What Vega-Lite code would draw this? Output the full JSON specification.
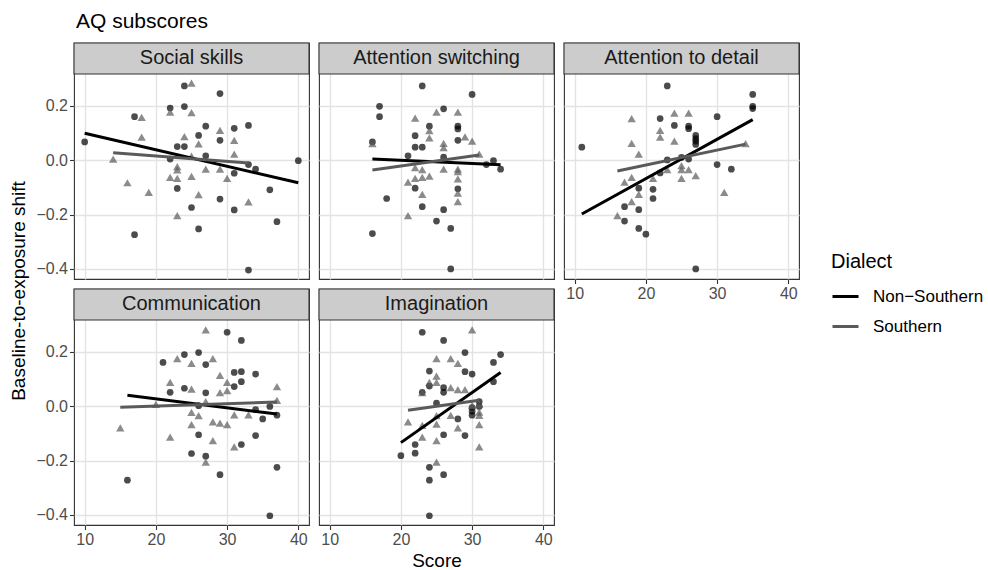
{
  "$schema": "https://vega.github.io/schema/vega-lite/v6.json",
  "padding": {"left": 10, "top": 10, "right": 5, "bottom": 0},
  "title": {"text": "Baseline-to-exposure shift", "orient": "left", "anchor": "middle", "frame": "bounds", "fontSize": 19, "fontWeight": "normal", "color": "#000000", "offset": 6},
  "columns": 3,
  "bounds": "flush",
  "spacing": {"row": 10, "column": 10},
  "datasets": {
    "pts": [
      {"panel":"SS","dialect":"Non−Southern","score":10,"shift":0.067},
      {"panel":"SS","dialect":"Non−Southern","score":17,"shift":0.160},
      {"panel":"SS","dialect":"Non−Southern","score":17,"shift":-0.274},
      {"panel":"SS","dialect":"Non−Southern","score":22,"shift":0.192},
      {"panel":"SS","dialect":"Non−Southern","score":24,"shift":0.273},
      {"panel":"SS","dialect":"Non−Southern","score":24,"shift":0.197},
      {"panel":"SS","dialect":"Non−Southern","score":23,"shift":0.050},
      {"panel":"SS","dialect":"Non−Southern","score":24,"shift":0.050},
      {"panel":"SS","dialect":"Non−Southern","score":22,"shift":0.004},
      {"panel":"SS","dialect":"Non−Southern","score":23,"shift":-0.104},
      {"panel":"SS","dialect":"Non−Southern","score":25,"shift":-0.174},
      {"panel":"SS","dialect":"Non−Southern","score":26,"shift":0.091},
      {"panel":"SS","dialect":"Non−Southern","score":26,"shift":-0.253},
      {"panel":"SS","dialect":"Non−Southern","score":27,"shift":0.125},
      {"panel":"SS","dialect":"Non−Southern","score":27,"shift":0.016},
      {"panel":"SS","dialect":"Non−Southern","score":29,"shift":0.245},
      {"panel":"SS","dialect":"Non−Southern","score":29,"shift":0.073},
      {"panel":"SS","dialect":"Non−Southern","score":29,"shift":-0.143},
      {"panel":"SS","dialect":"Non−Southern","score":31,"shift":0.117},
      {"panel":"SS","dialect":"Non−Southern","score":31,"shift":-0.048},
      {"panel":"SS","dialect":"Non−Southern","score":31,"shift":-0.183},
      {"panel":"SS","dialect":"Non−Southern","score":33,"shift":0.128},
      {"panel":"SS","dialect":"Non−Southern","score":33,"shift":-0.016},
      {"panel":"SS","dialect":"Non−Southern","score":34,"shift":-0.033},
      {"panel":"SS","dialect":"Non−Southern","score":36,"shift":-0.109},
      {"panel":"SS","dialect":"Non−Southern","score":37,"shift":-0.226},
      {"panel":"SS","dialect":"Non−Southern","score":33,"shift":-0.404},
      {"panel":"SS","dialect":"Non−Southern","score":40,"shift":-0.002},
      {"panel":"SS","dialect":"Southern","score":14,"shift":0.004},
      {"panel":"SS","dialect":"Southern","score":16,"shift":-0.083},
      {"panel":"SS","dialect":"Southern","score":18,"shift":0.157},
      {"panel":"SS","dialect":"Southern","score":18,"shift":0.085},
      {"panel":"SS","dialect":"Southern","score":19,"shift":-0.118},
      {"panel":"SS","dialect":"Southern","score":22,"shift":0.177},
      {"panel":"SS","dialect":"Southern","score":22,"shift":-0.063},
      {"panel":"SS","dialect":"Southern","score":23,"shift":-0.024},
      {"panel":"SS","dialect":"Southern","score":23,"shift":-0.036},
      {"panel":"SS","dialect":"Southern","score":23,"shift":-0.067},
      {"panel":"SS","dialect":"Southern","score":23,"shift":-0.204},
      {"panel":"SS","dialect":"Southern","score":24,"shift":0.087},
      {"panel":"SS","dialect":"Southern","score":25,"shift":0.283},
      {"panel":"SS","dialect":"Southern","score":25,"shift":0.175},
      {"panel":"SS","dialect":"Southern","score":25,"shift":0.015},
      {"panel":"SS","dialect":"Southern","score":25,"shift":-0.060},
      {"panel":"SS","dialect":"Southern","score":26,"shift":0.060},
      {"panel":"SS","dialect":"Southern","score":26,"shift":-0.127},
      {"panel":"SS","dialect":"Southern","score":27,"shift":-0.033},
      {"panel":"SS","dialect":"Southern","score":29,"shift":0.110},
      {"panel":"SS","dialect":"Southern","score":29,"shift":-0.033},
      {"panel":"SS","dialect":"Southern","score":30,"shift":-0.067},
      {"panel":"SS","dialect":"Southern","score":31,"shift":0.073},
      {"panel":"SS","dialect":"Southern","score":31,"shift":0.022},
      {"panel":"SS","dialect":"Southern","score":33,"shift":-0.153},

      {"panel":"AS","dialect":"Non−Southern","score":23,"shift":0.273},
      {"panel":"AS","dialect":"Non−Southern","score":30,"shift":0.242},
      {"panel":"AS","dialect":"Non−Southern","score":17,"shift":0.198},
      {"panel":"AS","dialect":"Non−Southern","score":17,"shift":0.160},
      {"panel":"AS","dialect":"Non−Southern","score":26,"shift":0.189},
      {"panel":"AS","dialect":"Non−Southern","score":24,"shift":0.125},
      {"panel":"AS","dialect":"Non−Southern","score":28,"shift":0.125},
      {"panel":"AS","dialect":"Non−Southern","score":28,"shift":0.115},
      {"panel":"AS","dialect":"Non−Southern","score":22,"shift":0.090},
      {"panel":"AS","dialect":"Non−Southern","score":22,"shift":0.048},
      {"panel":"AS","dialect":"Non−Southern","score":23,"shift":0.048},
      {"panel":"AS","dialect":"Non−Southern","score":28,"shift":0.073},
      {"panel":"AS","dialect":"Non−Southern","score":16,"shift":0.067},
      {"panel":"AS","dialect":"Non−Southern","score":21,"shift":0.016},
      {"panel":"AS","dialect":"Non−Southern","score":26,"shift":0.011},
      {"panel":"AS","dialect":"Non−Southern","score":32,"shift":-0.016},
      {"panel":"AS","dialect":"Non−Southern","score":33,"shift":-0.002},
      {"panel":"AS","dialect":"Non−Southern","score":34,"shift":-0.033},
      {"panel":"AS","dialect":"Non−Southern","score":22,"shift":-0.103},
      {"panel":"AS","dialect":"Non−Southern","score":28,"shift":-0.105},
      {"panel":"AS","dialect":"Non−Southern","score":18,"shift":-0.141},
      {"panel":"AS","dialect":"Non−Southern","score":23,"shift":-0.171},
      {"panel":"AS","dialect":"Non−Southern","score":26,"shift":-0.182},
      {"panel":"AS","dialect":"Non−Southern","score":25,"shift":-0.224},
      {"panel":"AS","dialect":"Non−Southern","score":27,"shift":-0.251},
      {"panel":"AS","dialect":"Non−Southern","score":16,"shift":-0.270},
      {"panel":"AS","dialect":"Non−Southern","score":27,"shift":-0.400},
      {"panel":"AS","dialect":"Southern","score":25,"shift":0.177},
      {"panel":"AS","dialect":"Southern","score":28,"shift":0.177},
      {"panel":"AS","dialect":"Southern","score":22,"shift":0.155},
      {"panel":"AS","dialect":"Southern","score":24,"shift":0.109},
      {"panel":"AS","dialect":"Southern","score":24,"shift":0.082},
      {"panel":"AS","dialect":"Southern","score":29,"shift":0.086},
      {"panel":"AS","dialect":"Southern","score":30,"shift":0.070},
      {"panel":"AS","dialect":"Southern","score":26,"shift":0.062},
      {"panel":"AS","dialect":"Southern","score":26,"shift":0.046},
      {"panel":"AS","dialect":"Southern","score":16,"shift":0.061},
      {"panel":"AS","dialect":"Southern","score":31,"shift":0.022},
      {"panel":"AS","dialect":"Southern","score":22,"shift":-0.027},
      {"panel":"AS","dialect":"Southern","score":23,"shift":-0.035},
      {"panel":"AS","dialect":"Southern","score":26,"shift":-0.033},
      {"panel":"AS","dialect":"Southern","score":28,"shift":-0.033},
      {"panel":"AS","dialect":"Southern","score":24,"shift":-0.059},
      {"panel":"AS","dialect":"Southern","score":23,"shift":-0.063},
      {"panel":"AS","dialect":"Southern","score":22,"shift":-0.067},
      {"panel":"AS","dialect":"Southern","score":21,"shift":-0.081},
      {"panel":"AS","dialect":"Southern","score":28,"shift":-0.069},
      {"panel":"AS","dialect":"Southern","score":23,"shift":-0.126},
      {"panel":"AS","dialect":"Southern","score":28,"shift":-0.121},
      {"panel":"AS","dialect":"Southern","score":28,"shift":-0.152},
      {"panel":"AS","dialect":"Southern","score":21,"shift":-0.204},
      {"panel":"AS","dialect":"Southern","score":28,"shift":-0.042},

      {"panel":"AD","dialect":"Non−Southern","score":23,"shift":0.273},
      {"panel":"AD","dialect":"Non−Southern","score":35,"shift":0.242},
      {"panel":"AD","dialect":"Non−Southern","score":35,"shift":0.198},
      {"panel":"AD","dialect":"Non−Southern","score":35,"shift":0.190},
      {"panel":"AD","dialect":"Non−Southern","score":30,"shift":0.160},
      {"panel":"AD","dialect":"Non−Southern","score":22,"shift":0.153},
      {"panel":"AD","dialect":"Non−Southern","score":24,"shift":0.128},
      {"panel":"AD","dialect":"Non−Southern","score":26,"shift":0.125},
      {"panel":"AD","dialect":"Non−Southern","score":26,"shift":0.116},
      {"panel":"AD","dialect":"Non−Southern","score":27,"shift":0.091},
      {"panel":"AD","dialect":"Non−Southern","score":27,"shift":0.079},
      {"panel":"AD","dialect":"Non−Southern","score":27,"shift":0.070},
      {"panel":"AD","dialect":"Non−Southern","score":27,"shift":0.058},
      {"panel":"AD","dialect":"Non−Southern","score":11,"shift":0.048},
      {"panel":"AD","dialect":"Non−Southern","score":23,"shift":0.001},
      {"panel":"AD","dialect":"Non−Southern","score":25,"shift":0.010},
      {"panel":"AD","dialect":"Non−Southern","score":26,"shift":0.004},
      {"panel":"AD","dialect":"Non−Southern","score":30,"shift":-0.016},
      {"panel":"AD","dialect":"Non−Southern","score":32,"shift":-0.033},
      {"panel":"AD","dialect":"Non−Southern","score":22,"shift":-0.047},
      {"panel":"AD","dialect":"Non−Southern","score":19,"shift":-0.103},
      {"panel":"AD","dialect":"Non−Southern","score":21,"shift":-0.107},
      {"panel":"AD","dialect":"Non−Southern","score":21,"shift":-0.141},
      {"panel":"AD","dialect":"Non−Southern","score":17,"shift":-0.171},
      {"panel":"AD","dialect":"Non−Southern","score":19,"shift":-0.182},
      {"panel":"AD","dialect":"Non−Southern","score":17,"shift":-0.224},
      {"panel":"AD","dialect":"Non−Southern","score":19,"shift":-0.251},
      {"panel":"AD","dialect":"Non−Southern","score":20,"shift":-0.272},
      {"panel":"AD","dialect":"Non−Southern","score":27,"shift":-0.400},
      {"panel":"AD","dialect":"Southern","score":18,"shift":0.153},
      {"panel":"AD","dialect":"Southern","score":24,"shift":0.173},
      {"panel":"AD","dialect":"Southern","score":26,"shift":0.173},
      {"panel":"AD","dialect":"Southern","score":22,"shift":0.110},
      {"panel":"AD","dialect":"Southern","score":22,"shift":0.085},
      {"panel":"AD","dialect":"Southern","score":24,"shift":0.070},
      {"panel":"AD","dialect":"Southern","score":18,"shift":0.062},
      {"panel":"AD","dialect":"Southern","score":19,"shift":0.022},
      {"panel":"AD","dialect":"Southern","score":34,"shift":0.061},
      {"panel":"AD","dialect":"Southern","score":23,"shift":-0.035},
      {"panel":"AD","dialect":"Southern","score":25,"shift":-0.020},
      {"panel":"AD","dialect":"Southern","score":25,"shift":-0.035},
      {"panel":"AD","dialect":"Southern","score":26,"shift":-0.035},
      {"panel":"AD","dialect":"Southern","score":25,"shift":-0.067},
      {"panel":"AD","dialect":"Southern","score":27,"shift":-0.057},
      {"panel":"AD","dialect":"Southern","score":21,"shift":-0.067},
      {"panel":"AD","dialect":"Southern","score":18,"shift":-0.063},
      {"panel":"AD","dialect":"Southern","score":17,"shift":-0.081},
      {"panel":"AD","dialect":"Southern","score":19,"shift":-0.126},
      {"panel":"AD","dialect":"Southern","score":18,"shift":-0.152},
      {"panel":"AD","dialect":"Southern","score":31,"shift":-0.118},
      {"panel":"AD","dialect":"Southern","score":16,"shift":-0.204},

      {"panel":"CO","dialect":"Non−Southern","score":30,"shift":0.272},
      {"panel":"CO","dialect":"Non−Southern","score":32,"shift":0.242},
      {"panel":"CO","dialect":"Non−Southern","score":26,"shift":0.197},
      {"panel":"CO","dialect":"Non−Southern","score":24,"shift":0.190},
      {"panel":"CO","dialect":"Non−Southern","score":21,"shift":0.161},
      {"panel":"CO","dialect":"Non−Southern","score":27,"shift":0.153},
      {"panel":"CO","dialect":"Non−Southern","score":31,"shift":0.124},
      {"panel":"CO","dialect":"Non−Southern","score":32,"shift":0.127},
      {"panel":"CO","dialect":"Non−Southern","score":34,"shift":0.118},
      {"panel":"CO","dialect":"Non−Southern","score":32,"shift":0.090},
      {"panel":"CO","dialect":"Non−Southern","score":31,"shift":0.072},
      {"panel":"CO","dialect":"Non−Southern","score":24,"shift":0.066},
      {"panel":"CO","dialect":"Non−Southern","score":22,"shift":0.051},
      {"panel":"CO","dialect":"Non−Southern","score":27,"shift":0.049},
      {"panel":"CO","dialect":"Non−Southern","score":26,"shift":0.002},
      {"panel":"CO","dialect":"Non−Southern","score":36,"shift":-0.001},
      {"panel":"CO","dialect":"Non−Southern","score":34,"shift":-0.013},
      {"panel":"CO","dialect":"Non−Southern","score":37,"shift":-0.033},
      {"panel":"CO","dialect":"Non−Southern","score":35,"shift":-0.047},
      {"panel":"CO","dialect":"Non−Southern","score":26,"shift":-0.105},
      {"panel":"CO","dialect":"Non−Southern","score":34,"shift":-0.108},
      {"panel":"CO","dialect":"Non−Southern","score":32,"shift":-0.141},
      {"panel":"CO","dialect":"Non−Southern","score":25,"shift":-0.174},
      {"panel":"CO","dialect":"Non−Southern","score":27,"shift":-0.184},
      {"panel":"CO","dialect":"Non−Southern","score":37,"shift":-0.225},
      {"panel":"CO","dialect":"Non−Southern","score":29,"shift":-0.252},
      {"panel":"CO","dialect":"Non−Southern","score":16,"shift":-0.272},
      {"panel":"CO","dialect":"Non−Southern","score":36,"shift":-0.403},
      {"panel":"CO","dialect":"Southern","score":27,"shift":0.281},
      {"panel":"CO","dialect":"Southern","score":23,"shift":0.175},
      {"panel":"CO","dialect":"Southern","score":25,"shift":0.157},
      {"panel":"CO","dialect":"Southern","score":28,"shift":0.175},
      {"panel":"CO","dialect":"Southern","score":29,"shift":0.113},
      {"panel":"CO","dialect":"Southern","score":22,"shift":0.088},
      {"panel":"CO","dialect":"Southern","score":30,"shift":0.088},
      {"panel":"CO","dialect":"Southern","score":30,"shift":0.057},
      {"panel":"CO","dialect":"Southern","score":25,"shift":0.063},
      {"panel":"CO","dialect":"Southern","score":29,"shift":0.050},
      {"panel":"CO","dialect":"Southern","score":37,"shift":0.072},
      {"panel":"CO","dialect":"Southern","score":37,"shift":0.021},
      {"panel":"CO","dialect":"Southern","score":20,"shift":0.007},
      {"panel":"CO","dialect":"Southern","score":27,"shift":0.017},
      {"panel":"CO","dialect":"Southern","score":31,"shift":-0.032},
      {"panel":"CO","dialect":"Southern","score":33,"shift":-0.032},
      {"panel":"CO","dialect":"Southern","score":25,"shift":-0.023},
      {"panel":"CO","dialect":"Southern","score":26,"shift":-0.035},
      {"panel":"CO","dialect":"Southern","score":25,"shift":-0.068},
      {"panel":"CO","dialect":"Southern","score":28,"shift":-0.058},
      {"panel":"CO","dialect":"Southern","score":29,"shift":-0.062},
      {"panel":"CO","dialect":"Southern","score":30,"shift":-0.068},
      {"panel":"CO","dialect":"Southern","score":15,"shift":-0.080},
      {"panel":"CO","dialect":"Southern","score":22,"shift":-0.114},
      {"panel":"CO","dialect":"Southern","score":28,"shift":-0.127},
      {"panel":"CO","dialect":"Southern","score":31,"shift":-0.150},
      {"panel":"CO","dialect":"Southern","score":27,"shift":-0.206},

      {"panel":"IM","dialect":"Non−Southern","score":23,"shift":0.272},
      {"panel":"IM","dialect":"Non−Southern","score":26,"shift":0.242},
      {"panel":"IM","dialect":"Non−Southern","score":29,"shift":0.197},
      {"panel":"IM","dialect":"Non−Southern","score":34,"shift":0.190},
      {"panel":"IM","dialect":"Non−Southern","score":33,"shift":0.161},
      {"panel":"IM","dialect":"Non−Southern","score":24,"shift":0.129},
      {"panel":"IM","dialect":"Non−Southern","score":29,"shift":0.127},
      {"panel":"IM","dialect":"Non−Southern","score":30,"shift":0.118},
      {"panel":"IM","dialect":"Non−Southern","score":33,"shift":0.090},
      {"panel":"IM","dialect":"Non−Southern","score":24,"shift":0.074},
      {"panel":"IM","dialect":"Non−Southern","score":26,"shift":0.068},
      {"panel":"IM","dialect":"Non−Southern","score":26,"shift":0.051},
      {"panel":"IM","dialect":"Non−Southern","score":23,"shift":0.051},
      {"panel":"IM","dialect":"Non−Southern","score":25,"shift":0.011},
      {"panel":"IM","dialect":"Non−Southern","score":31,"shift":0.017},
      {"panel":"IM","dialect":"Non−Southern","score":30,"shift":-0.005},
      {"panel":"IM","dialect":"Non−Southern","score":30,"shift":-0.019},
      {"panel":"IM","dialect":"Non−Southern","score":30,"shift":-0.033},
      {"panel":"IM","dialect":"Non−Southern","score":31,"shift":-0.001},
      {"panel":"IM","dialect":"Non−Southern","score":28,"shift":-0.047},
      {"panel":"IM","dialect":"Non−Southern","score":26,"shift":-0.105},
      {"panel":"IM","dialect":"Non−Southern","score":29,"shift":-0.108},
      {"panel":"IM","dialect":"Non−Southern","score":22,"shift":-0.141},
      {"panel":"IM","dialect":"Non−Southern","score":22,"shift":-0.173},
      {"panel":"IM","dialect":"Non−Southern","score":20,"shift":-0.182},
      {"panel":"IM","dialect":"Non−Southern","score":24,"shift":-0.225},
      {"panel":"IM","dialect":"Non−Southern","score":24,"shift":-0.272},
      {"panel":"IM","dialect":"Non−Southern","score":26,"shift":-0.252},
      {"panel":"IM","dialect":"Non−Southern","score":24,"shift":-0.403},
      {"panel":"IM","dialect":"Southern","score":30,"shift":0.281},
      {"panel":"IM","dialect":"Southern","score":25,"shift":0.175},
      {"panel":"IM","dialect":"Southern","score":27,"shift":0.175},
      {"panel":"IM","dialect":"Southern","score":28,"shift":0.157},
      {"panel":"IM","dialect":"Southern","score":25,"shift":0.111},
      {"panel":"IM","dialect":"Southern","score":25,"shift":0.088},
      {"panel":"IM","dialect":"Southern","score":24,"shift":0.088},
      {"panel":"IM","dialect":"Southern","score":27,"shift":0.068},
      {"panel":"IM","dialect":"Southern","score":28,"shift":0.061},
      {"panel":"IM","dialect":"Southern","score":29,"shift":0.061},
      {"panel":"IM","dialect":"Southern","score":23,"shift":0.050},
      {"panel":"IM","dialect":"Southern","score":31,"shift":0.007},
      {"panel":"IM","dialect":"Southern","score":31,"shift":-0.022},
      {"panel":"IM","dialect":"Southern","score":31,"shift":-0.034},
      {"panel":"IM","dialect":"Southern","score":30,"shift":0.002},
      {"panel":"IM","dialect":"Southern","score":27,"shift":-0.034},
      {"panel":"IM","dialect":"Southern","score":25,"shift":-0.035},
      {"panel":"IM","dialect":"Southern","score":23,"shift":-0.071},
      {"panel":"IM","dialect":"Southern","score":25,"shift":-0.066},
      {"panel":"IM","dialect":"Southern","score":21,"shift":-0.058},
      {"panel":"IM","dialect":"Southern","score":31,"shift":-0.068},
      {"panel":"IM","dialect":"Southern","score":28,"shift":-0.080},
      {"panel":"IM","dialect":"Southern","score":23,"shift":-0.114},
      {"panel":"IM","dialect":"Southern","score":25,"shift":-0.127},
      {"panel":"IM","dialect":"Southern","score":31,"shift":-0.150},
      {"panel":"IM","dialect":"Southern","score":25,"shift":-0.206}
    ],
    "fits": [
      {"panel":"SS","dialect":"Non−Southern","score":10,"shift":0.099},
      {"panel":"SS","dialect":"Non−Southern","score":40,"shift":-0.083},
      {"panel":"SS","dialect":"Southern","score":14,"shift":0.027},
      {"panel":"SS","dialect":"Southern","score":33,"shift":-0.010},
      {"panel":"AS","dialect":"Non−Southern","score":16,"shift":0.004},
      {"panel":"AS","dialect":"Non−Southern","score":34,"shift":-0.017},
      {"panel":"AS","dialect":"Southern","score":16,"shift":-0.036},
      {"panel":"AS","dialect":"Southern","score":31,"shift":0.019},
      {"panel":"AD","dialect":"Non−Southern","score":11,"shift":-0.198},
      {"panel":"AD","dialect":"Non−Southern","score":35,"shift":0.149},
      {"panel":"AD","dialect":"Southern","score":16,"shift":-0.040},
      {"panel":"AD","dialect":"Southern","score":34,"shift":0.059},
      {"panel":"CO","dialect":"Non−Southern","score":16,"shift":0.040},
      {"panel":"CO","dialect":"Non−Southern","score":37,"shift":-0.029},
      {"panel":"CO","dialect":"Southern","score":15,"shift":-0.004},
      {"panel":"CO","dialect":"Southern","score":37,"shift":0.015},
      {"panel":"IM","dialect":"Non−Southern","score":20,"shift":-0.134},
      {"panel":"IM","dialect":"Non−Southern","score":34,"shift":0.124},
      {"panel":"IM","dialect":"Southern","score":21,"shift":-0.015},
      {"panel":"IM","dialect":"Southern","score":31,"shift":0.022}
    ]
  },
  "concat": [
    {"width": 235, "height": 236,
     "title": {"text": "AQ subscores", "anchor": "start", "frame": "group", "fontSize": 21, "fontWeight": "normal", "color": "#000000", "offset": 10, "dx": 2},
     "layer": [
       {"data": {"values": [{"label": "Social skills"}]},
        "mark": {"type": "rect", "fill": "#cccccc", "stroke": "#333333", "strokeWidth": 1.1},
        "encoding": {
          "x": {"datum": 8.5, "type": "quantitative", "scale": {"domain": [8.5, 41.5], "nice": false, "zero": false},
                "axis": {"values": [10, 15, 20, 25, 30, 35, 40], "labels": false, "ticks": false, "title": null,
                         "gridWidth": {"condition": {"test": "datum.value % 10 !== 0", "value": 0.7}, "value": 1.4}}},
          "x2": {"datum": 41.5},
          "y": {"datum": 0.317, "type": "quantitative", "scale": {"domain": [-0.437, 0.431], "nice": false, "zero": false},
                "axis": {"values": [-0.4, -0.3, -0.2, -0.1, 0, 0.1, 0.2, 0.3], "format": ".1f", "title": null,
                         "labelExpr": "abs(round(datum.value*10)) % 2 === 0 ? datum.label : ''",
                         "gridWidth": {"condition": {"test": "abs(round(datum.value*10)) % 2 === 1", "value": 0.7}, "value": 1.4},
                         "tickOpacity": {"condition": {"test": "abs(round(datum.value*10)) % 2 === 1", "value": 0}, "value": 1}}},
          "y2": {"datum": 0.431}
        }},
       {"data": {"values": [{"label": "Social skills"}]},
        "mark": {"type": "text", "fontSize": 20, "color": "#1a1a1a"},
        "encoding": {"x": {"datum": 25, "type": "quantitative"}, "y": {"datum": 0.374, "type": "quantitative"}, "text": {"field": "label"}}},
       {"data": {"name": "pts"}, "transform": [{"filter": "datum.panel === 'SS'"}],
        "mark": {"type": "point", "filled": true, "opacity": 0.7},
        "encoding": {
          "x": {"field": "score", "type": "quantitative"},
          "y": {"field": "shift", "type": "quantitative"},
          "fill": {"condition": {"test": "datum.dialect === 'Southern'", "value": "#5a5a5a"}, "value": "#000000"},
          "shape": {"condition": {"test": "datum.dialect === 'Southern'", "value": "triangle-up"}, "value": "circle"},
          "size": {"condition": {"test": "datum.dialect === 'Southern'", "value": 70}, "value": 45}
        }},
       {"data": {"name": "fits"}, "transform": [{"filter": "datum.panel === 'SS'"}],
        "mark": {"type": "line", "strokeWidth": 3},
        "encoding": {
          "x": {"field": "score", "type": "quantitative"},
          "y": {"field": "shift", "type": "quantitative"},
          "color": {"field": "dialect", "type": "nominal", "scale": {"domain": ["Non−Southern", "Southern"], "range": ["#000000", "#5a5a5a"]},
                    "legend": {"title": "Dialect", "orient": "none", "legendX": 757, "legendY": 209, "symbolType": "stroke", "symbolSize": 676, "symbolStrokeWidth": 3, "labelOffset": 13, "rowPadding": 7, "titlePadding": 10, "labelFontSize": 17, "titleFontSize": 20, "titleFontWeight": "normal", "labelColor": "#000000", "titleColor": "#000000"}}
        }}
     ]},
    {"width": 235, "height": 236,
     "layer": [
       {"data": {"values": [{"label": "Attention switching"}]},
        "mark": {"type": "rect", "fill": "#cccccc", "stroke": "#333333", "strokeWidth": 1.1},
        "encoding": {
          "x": {"datum": 8.5, "type": "quantitative", "scale": {"domain": [8.5, 41.5], "nice": false, "zero": false},
                "axis": {"values": [10, 15, 20, 25, 30, 35, 40], "labels": false, "ticks": false, "title": null,
                         "gridWidth": {"condition": {"test": "datum.value % 10 !== 0", "value": 0.7}, "value": 1.4}}},
          "x2": {"datum": 41.5},
          "y": {"datum": 0.317, "type": "quantitative", "scale": {"domain": [-0.437, 0.431], "nice": false, "zero": false},
                "axis": {"values": [-0.4, -0.3, -0.2, -0.1, 0, 0.1, 0.2, 0.3], "labels": false, "ticks": false, "title": null,
                         "gridWidth": {"condition": {"test": "abs(round(datum.value*10)) % 2 === 1", "value": 0.7}, "value": 1.4}}},
          "y2": {"datum": 0.431}
        }},
       {"data": {"values": [{"label": "Attention switching"}]},
        "mark": {"type": "text", "fontSize": 20, "color": "#1a1a1a"},
        "encoding": {"x": {"datum": 25, "type": "quantitative"}, "y": {"datum": 0.374, "type": "quantitative"}, "text": {"field": "label"}}},
       {"data": {"name": "pts"}, "transform": [{"filter": "datum.panel === 'AS'"}],
        "mark": {"type": "point", "filled": true, "opacity": 0.7},
        "encoding": {
          "x": {"field": "score", "type": "quantitative"},
          "y": {"field": "shift", "type": "quantitative"},
          "fill": {"condition": {"test": "datum.dialect === 'Southern'", "value": "#5a5a5a"}, "value": "#000000"},
          "shape": {"condition": {"test": "datum.dialect === 'Southern'", "value": "triangle-up"}, "value": "circle"},
          "size": {"condition": {"test": "datum.dialect === 'Southern'", "value": 70}, "value": 45}
        }},
       {"data": {"name": "fits"}, "transform": [{"filter": "datum.panel === 'AS'"}],
        "mark": {"type": "line", "strokeWidth": 3},
        "encoding": {
          "x": {"field": "score", "type": "quantitative"},
          "y": {"field": "shift", "type": "quantitative"},
          "color": {"field": "dialect", "type": "nominal", "scale": {"domain": ["Non−Southern", "Southern"], "range": ["#000000", "#5a5a5a"]},
                    "legend": {"title": "Dialect", "orient": "none", "legendX": 757, "legendY": 209, "symbolType": "stroke", "symbolSize": 676, "symbolStrokeWidth": 3, "labelOffset": 13, "rowPadding": 7, "titlePadding": 10, "labelFontSize": 17, "titleFontSize": 20, "titleFontWeight": "normal", "labelColor": "#000000", "titleColor": "#000000"}}
        }}
     ]},
    {"width": 235, "height": 236,
     "layer": [
       {"data": {"values": [{"label": "Attention to detail"}]},
        "mark": {"type": "rect", "fill": "#cccccc", "stroke": "#333333", "strokeWidth": 1.1},
        "encoding": {
          "x": {"datum": 8.5, "type": "quantitative", "scale": {"domain": [8.5, 41.5], "nice": false, "zero": false},
                "axis": {"values": [10, 15, 20, 25, 30, 35, 40], "title": null,
                         "labelExpr": "datum.value % 10 === 0 ? datum.label : ''",
                         "gridWidth": {"condition": {"test": "datum.value % 10 !== 0", "value": 0.7}, "value": 1.4},
                         "tickOpacity": {"condition": {"test": "datum.value % 10 !== 0", "value": 0}, "value": 1}}},
          "x2": {"datum": 41.5},
          "y": {"datum": 0.317, "type": "quantitative", "scale": {"domain": [-0.437, 0.431], "nice": false, "zero": false},
                "axis": {"values": [-0.4, -0.3, -0.2, -0.1, 0, 0.1, 0.2, 0.3], "labels": false, "ticks": false, "title": null,
                         "gridWidth": {"condition": {"test": "abs(round(datum.value*10)) % 2 === 1", "value": 0.7}, "value": 1.4}}},
          "y2": {"datum": 0.431}
        }},
       {"data": {"values": [{"label": "Attention to detail"}]},
        "mark": {"type": "text", "fontSize": 20, "color": "#1a1a1a"},
        "encoding": {"x": {"datum": 25, "type": "quantitative"}, "y": {"datum": 0.374, "type": "quantitative"}, "text": {"field": "label"}}},
       {"data": {"name": "pts"}, "transform": [{"filter": "datum.panel === 'AD'"}],
        "mark": {"type": "point", "filled": true, "opacity": 0.7},
        "encoding": {
          "x": {"field": "score", "type": "quantitative"},
          "y": {"field": "shift", "type": "quantitative"},
          "fill": {"condition": {"test": "datum.dialect === 'Southern'", "value": "#5a5a5a"}, "value": "#000000"},
          "shape": {"condition": {"test": "datum.dialect === 'Southern'", "value": "triangle-up"}, "value": "circle"},
          "size": {"condition": {"test": "datum.dialect === 'Southern'", "value": 70}, "value": 45}
        }},
       {"data": {"name": "fits"}, "transform": [{"filter": "datum.panel === 'AD'"}],
        "mark": {"type": "line", "strokeWidth": 3},
        "encoding": {
          "x": {"field": "score", "type": "quantitative"},
          "y": {"field": "shift", "type": "quantitative"},
          "color": {"field": "dialect", "type": "nominal", "scale": {"domain": ["Non−Southern", "Southern"], "range": ["#000000", "#5a5a5a"]},
                    "legend": {"title": "Dialect", "orient": "none", "legendX": 757, "legendY": 209, "symbolType": "stroke", "symbolSize": 676, "symbolStrokeWidth": 3, "labelOffset": 13, "rowPadding": 7, "titlePadding": 10, "labelFontSize": 17, "titleFontSize": 20, "titleFontWeight": "normal", "labelColor": "#000000", "titleColor": "#000000"}}
        }}
     ]},
    {"width": 235, "height": 236,
     "layer": [
       {"data": {"values": [{"label": "Communication"}]},
        "mark": {"type": "rect", "fill": "#cccccc", "stroke": "#333333", "strokeWidth": 1.1},
        "encoding": {
          "x": {"datum": 8.5, "type": "quantitative", "scale": {"domain": [8.5, 41.5], "nice": false, "zero": false},
                "axis": {"values": [10, 15, 20, 25, 30, 35, 40], "title": null,
                         "labelExpr": "datum.value % 10 === 0 ? datum.label : ''",
                         "gridWidth": {"condition": {"test": "datum.value % 10 !== 0", "value": 0.7}, "value": 1.4},
                         "tickOpacity": {"condition": {"test": "datum.value % 10 !== 0", "value": 0}, "value": 1}}},
          "x2": {"datum": 41.5},
          "y": {"datum": 0.317, "type": "quantitative", "scale": {"domain": [-0.437, 0.431], "nice": false, "zero": false},
                "axis": {"values": [-0.4, -0.3, -0.2, -0.1, 0, 0.1, 0.2, 0.3], "format": ".1f", "title": null,
                         "labelExpr": "abs(round(datum.value*10)) % 2 === 0 ? datum.label : ''",
                         "gridWidth": {"condition": {"test": "abs(round(datum.value*10)) % 2 === 1", "value": 0.7}, "value": 1.4},
                         "tickOpacity": {"condition": {"test": "abs(round(datum.value*10)) % 2 === 1", "value": 0}, "value": 1}}},
          "y2": {"datum": 0.431}
        }},
       {"data": {"values": [{"label": "Communication"}]},
        "mark": {"type": "text", "fontSize": 20, "color": "#1a1a1a"},
        "encoding": {"x": {"datum": 25, "type": "quantitative"}, "y": {"datum": 0.374, "type": "quantitative"}, "text": {"field": "label"}}},
       {"data": {"name": "pts"}, "transform": [{"filter": "datum.panel === 'CO'"}],
        "mark": {"type": "point", "filled": true, "opacity": 0.7},
        "encoding": {
          "x": {"field": "score", "type": "quantitative"},
          "y": {"field": "shift", "type": "quantitative"},
          "fill": {"condition": {"test": "datum.dialect === 'Southern'", "value": "#5a5a5a"}, "value": "#000000"},
          "shape": {"condition": {"test": "datum.dialect === 'Southern'", "value": "triangle-up"}, "value": "circle"},
          "size": {"condition": {"test": "datum.dialect === 'Southern'", "value": 70}, "value": 45}
        }},
       {"data": {"name": "fits"}, "transform": [{"filter": "datum.panel === 'CO'"}],
        "mark": {"type": "line", "strokeWidth": 3},
        "encoding": {
          "x": {"field": "score", "type": "quantitative"},
          "y": {"field": "shift", "type": "quantitative"},
          "color": {"field": "dialect", "type": "nominal", "scale": {"domain": ["Non−Southern", "Southern"], "range": ["#000000", "#5a5a5a"]},
                    "legend": {"title": "Dialect", "orient": "none", "legendX": 757, "legendY": 209, "symbolType": "stroke", "symbolSize": 676, "symbolStrokeWidth": 3, "labelOffset": 13, "rowPadding": 7, "titlePadding": 10, "labelFontSize": 17, "titleFontSize": 20, "titleFontWeight": "normal", "labelColor": "#000000", "titleColor": "#000000"}}
        }}
     ]},
    {"width": 235, "height": 236,
     "layer": [
       {"data": {"values": [{"label": "Imagination"}]},
        "mark": {"type": "rect", "fill": "#cccccc", "stroke": "#333333", "strokeWidth": 1.1},
        "encoding": {
          "x": {"datum": 8.5, "type": "quantitative", "scale": {"domain": [8.5, 41.5], "nice": false, "zero": false},
                "axis": {"values": [10, 15, 20, 25, 30, 35, 40], "title": "Score",
                         "labelExpr": "datum.value % 10 === 0 ? datum.label : ''",
                         "gridWidth": {"condition": {"test": "datum.value % 10 !== 0", "value": 0.7}, "value": 1.4},
                         "tickOpacity": {"condition": {"test": "datum.value % 10 !== 0", "value": 0}, "value": 1}}},
          "x2": {"datum": 41.5},
          "y": {"datum": 0.317, "type": "quantitative", "scale": {"domain": [-0.437, 0.431], "nice": false, "zero": false},
                "axis": {"values": [-0.4, -0.3, -0.2, -0.1, 0, 0.1, 0.2, 0.3], "labels": false, "ticks": false, "title": null,
                         "gridWidth": {"condition": {"test": "abs(round(datum.value*10)) % 2 === 1", "value": 0.7}, "value": 1.4}}},
          "y2": {"datum": 0.431}
        }},
       {"data": {"values": [{"label": "Imagination"}]},
        "mark": {"type": "text", "fontSize": 20, "color": "#1a1a1a"},
        "encoding": {"x": {"datum": 25, "type": "quantitative"}, "y": {"datum": 0.374, "type": "quantitative"}, "text": {"field": "label"}}},
       {"data": {"name": "pts"}, "transform": [{"filter": "datum.panel === 'IM'"}],
        "mark": {"type": "point", "filled": true, "opacity": 0.7},
        "encoding": {
          "x": {"field": "score", "type": "quantitative"},
          "y": {"field": "shift", "type": "quantitative"},
          "fill": {"condition": {"test": "datum.dialect === 'Southern'", "value": "#5a5a5a"}, "value": "#000000"},
          "shape": {"condition": {"test": "datum.dialect === 'Southern'", "value": "triangle-up"}, "value": "circle"},
          "size": {"condition": {"test": "datum.dialect === 'Southern'", "value": 70}, "value": 45}
        }},
       {"data": {"name": "fits"}, "transform": [{"filter": "datum.panel === 'IM'"}],
        "mark": {"type": "line", "strokeWidth": 3},
        "encoding": {
          "x": {"field": "score", "type": "quantitative"},
          "y": {"field": "shift", "type": "quantitative"},
          "color": {"field": "dialect", "type": "nominal", "scale": {"domain": ["Non−Southern", "Southern"], "range": ["#000000", "#5a5a5a"]},
                    "legend": {"title": "Dialect", "orient": "none", "legendX": 757, "legendY": 209, "symbolType": "stroke", "symbolSize": 676, "symbolStrokeWidth": 3, "labelOffset": 13, "rowPadding": 7, "titlePadding": 10, "labelFontSize": 17, "titleFontSize": 20, "titleFontWeight": "normal", "labelColor": "#000000", "titleColor": "#000000"}}
        }}
     ]}
  ],
  "config": {
    "font": "Liberation Sans",
    "view": {"stroke": "#333333", "strokeWidth": 1.1},
    "axis": {
      "grid": true, "gridColor": "#e3e3e3", "domain": false,
      "tickSize": 4.5, "tickColor": "#333333", "tickWidth": 1.1,
      "labelColor": "#4d4d4d", "labelFontSize": 16, "labelPadding": 2,
      "labelFlush": false, "labelOverlap": false,
      "titleFontSize": 19, "titleFontWeight": "normal", "titleColor": "#000000", "titlePadding": 4
    }
  }
}
